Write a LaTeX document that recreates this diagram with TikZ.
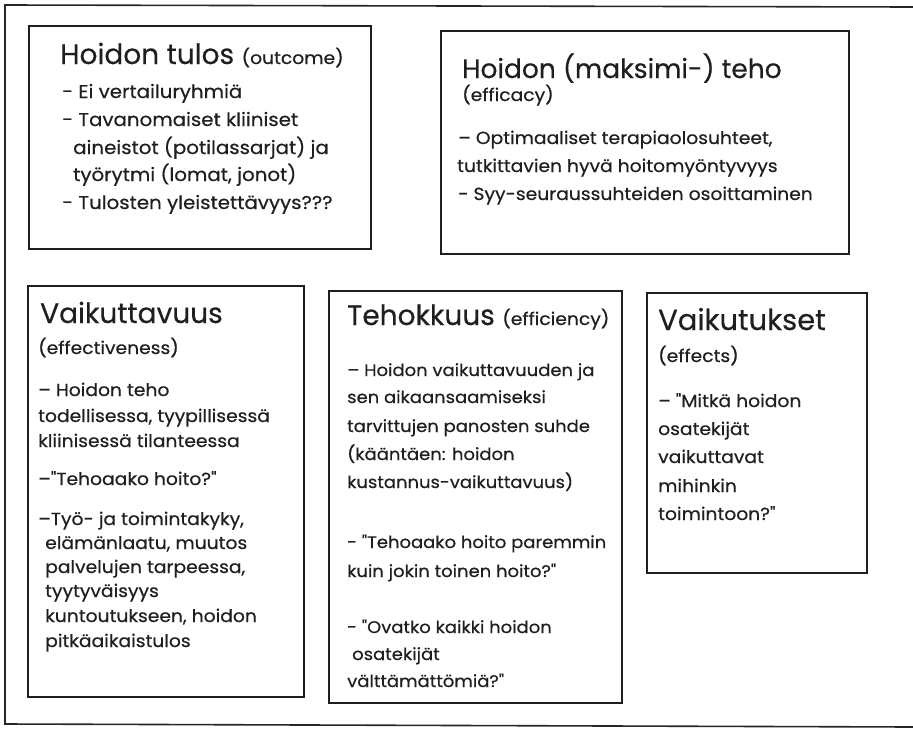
\documentclass[tikz,border=0pt]{standalone}
\usepackage{fontspec}
\setmainfont{Poppins}
\newfontfamily\bodyfont[FakeStretch=1.07,FakeBold=0.5]{Poppins}
\newfontfamily\ttlfont[FakeBold=0.4]{Poppins}
\newcommand\subsz{\bodyfont\fontsize{17.5}{17.5}\selectfont}
\begin{document}
\begin{tikzpicture}[x=1pt,y=-1pt,
  frame/.style={draw=black!85, line width=1.6pt},
  box/.style={draw=black!88, line width=1.9pt, inner sep=0pt, anchor=north west},
  ln/.style={anchor=base west, inner sep=0pt, text=black!88},
  body/.style={ln, font=\bodyfont\fontsize{17.5}{17.5}\selectfont},
  bodyl/.style={ln, font=\bodyfont\fontsize{18.5}{18.5}\selectfont},
  bodys/.style={ln, font=\bodyfont\fontsize{16.8}{16.8}\selectfont},
  ttl/.style={ln, font=\ttlfont\fontsize{28}{28}\selectfont}]
\useasboundingbox (0,0) rectangle (913,731);
% outer frame (right side cut off)
\draw[frame] (913,7) -- (5,5) -- (5,724) -- (913,727);
% boxes
\node[box, minimum width=342pt, minimum height=223pt] (b1) at (28,25) {};
\node[box, minimum width=408pt, minimum height=223pt] (b2) at (440,30) {};
\node[box, minimum width=276pt, minimum height=411pt] (b3) at (27,285) {};
\node[box, minimum width=293pt, minimum height=412pt] (b4) at (328,290) {};
\node[box, minimum width=220pt, minimum height=280pt] (b5) at (646,292) {};
% box 1
\node[ttl] (t1) at (60,64) {Hoidon tulos {\subsz (outcome)}};
\foreach \xx/\yy/\txt [count=\i] in {
  62/98/{- Ei vertailuryhmiä},
  62/126/{- Tavanomaiset kliiniset},
  73/154/{aineistot (potilassarjat) ja},
  73/181/{työrytmi (lomat, jonot)},
  62/209/{- Tulosten yleistettävyys???}}
  \node[bodyl] (a\i) at (\xx,\yy) {\txt};
% box 2
\node[ttl, font=\ttlfont\fontsize{26.5}{26.5}\selectfont] (t2) at (462,78) {Hoidon (maksimi-) teho};
\node[body] (s2) at (462,101) {(efficacy)};
\foreach \xx/\yy/\txt [count=\i] in {
  458/144/{– Optimaaliset terapiaolosuhteet,},
  457/172/{tutkittavien hyvä hoitomyöntyvyys},
  458/200/{- Syy-seuraussuhteiden osoittaminen}}
  \node[body] (c\i) at (\xx,\yy) {\txt};
% box 3
\node[ttl] (t3) at (40,323) {Vaikuttavuus};
\node[body] (s3) at (38,354) {(effectiveness)};
\foreach \xx/\yy/\txt [count=\i] in {
  38/396/{– Hoidon teho},
  38/422/{todellisessa, tyypillisessä},
  38/447/{kliinisessä tilanteessa},
  38/485/{–"Tehoaako hoito?"},
  38/525/{–Työ- ja toimintakyky,},
  45/549/{elämänlaatu, muutos},
  45/573/{palvelujen tarpeessa,},
  45/597/{tyytyväisyys},
  45/622/{kuntoutukseen, hoidon},
  45/647/{pitkäaikaistulos}}
  \node[body] (d\i) at (\xx,\yy) {\txt};
% box 4
\node[ttl] (t4) at (347,325) {Tehokkuus {\subsz (efficiency)}};
\foreach \xx/\yy/\txt [count=\i] in {
  347/376/{– Hoidon vaikuttavuuden ja},
  347/403/{sen aikaansaamiseksi},
  347/432/{tarvittujen panosten suhde},
  347/460/{(kääntäen: hoidon},
  347/488/{kustannus-vaikuttavuus)},
  347/548/{- "Tehoaako hoito paremmin},
  347/577/{kuin jokin toinen hoito?"},
  347/633/{- "Ovatko kaikki hoidon},
  352/660/{osatekijät},
  347/687/{välttämättömiä?"}}
  \node[bodys] (e\i) at (\xx,\yy) {\txt};
% box 5
\node[ttl, font=\ttlfont\fontsize{29}{29}\selectfont] (t5) at (658,330) {Vaikutukset};
\node[body] (s5) at (658,362) {(effects)};
\foreach \xx/\yy/\txt [count=\i] in {
  658/407/{– "Mitkä hoidon},
  658/435/{osatekijät},
  658/463/{vaikuttavat},
  658/492/{mihinkin},
  658/520/{toimintoon?"}}
  \node[body] (f\i) at (\xx,\yy) {\txt};
\end{tikzpicture}
\end{document}
